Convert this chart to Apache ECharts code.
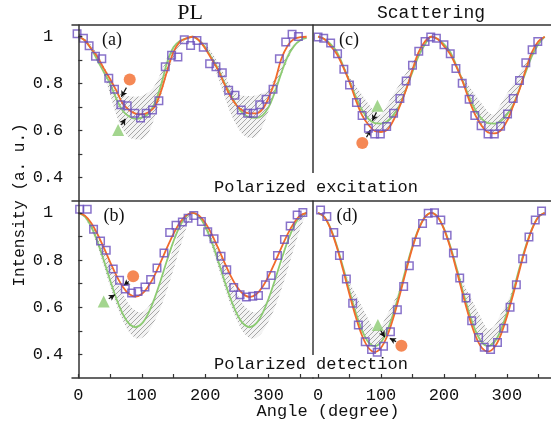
<!DOCTYPE html>
<html>
<head>
<meta charset="utf-8">
<script src="https://cdn.jsdelivr.net/npm/echarts@6/dist/echarts.min.js"></script>
<style>html,body{margin:0;padding:0;background:#fff}#c{width:551px;height:428px}</style>
</head>
<body>
<div id="c"></div>
<script>
// ---------- data ----------
const curveAngles = [0,10,20,30,40,50,60,70,80,90,100,110,120,130,140,150,160,170,180,190,200,210,220,230,240,250,260,270,280,290,300,310,320,330,340,350,360];
const xTickValues = [0,50,100,150,200,250,300,350];
const xLabelValues = [0,100,200,300];
const yTickValues = [0.4,0.5,0.6,0.7,0.8,0.9,1];
const yLabelValues = [0.4,0.6,0.8,1];

// (a) PL, polarized excitation
const anglesA = [-2,8,17,27,37,48,57,67,77,89,98,107,117,127,137,147,157,167,177,187,197,207,217,227,237,247,257,267,276,286,296,307,317,327,337,347];
const intensityA = [1.013,0.994,0.962,0.917,0.906,0.823,0.776,0.710,0.706,0.674,0.654,0.674,0.688,0.727,0.872,0.921,0.914,0.987,0.963,0.984,0.955,0.885,0.872,0.847,0.772,0.751,0.688,0.674,0.674,0.710,0.734,0.776,0.906,0.978,1.011,1.001];
const orangeA = [1.0,0.985,0.95,0.915,0.865,0.82,0.77,0.715,0.688,0.672,0.669,0.677,0.70,0.765,0.854,0.935,0.978,0.993,1.0,0.985,0.95,0.905,0.86,0.80,0.745,0.706,0.684,0.673,0.673,0.69,0.74,0.81,0.905,0.962,0.99,0.998,1.0];
const greenA = [1.0,0.985,0.95,0.9,0.85,0.8,0.735,0.685,0.66,0.65,0.655,0.67,0.715,0.79,0.89,0.955,0.982,0.992,1.0,0.985,0.955,0.91,0.865,0.805,0.755,0.705,0.672,0.656,0.654,0.664,0.70,0.765,0.845,0.915,0.96,0.985,0.995];
const bandLowA = [1.0,0.985,0.95,0.9,0.84,0.755,0.665,0.605,0.572,0.563,0.563,0.588,0.655,0.745,0.84,0.91,0.96,0.99,1.0,0.99,0.96,0.9,0.83,0.75,0.675,0.62,0.582,0.569,0.575,0.615,0.685,0.765,0.835,0.9,0.955,0.985,1.0];
const bandUpA = [1.0,0.99,0.965,0.925,0.875,0.825,0.775,0.752,0.746,0.744,0.748,0.762,0.79,0.845,0.91,0.955,0.985,0.997,1.0,0.99,0.97,0.935,0.89,0.84,0.79,0.757,0.748,0.747,0.75,0.758,0.775,0.825,0.88,0.93,0.97,0.99,1.0];
const circleA = [81,0.818], triangleA = [62.7,0.603];
const arrowCircleA = [[75.8,0.783],[67.9,0.744]], arrowTriangleA = [[67.9,0.624],[74.2,0.650]];

// (b) PL, polarized detection
const anglesB = [2,14,24,35,44,55,65,74,84,94,105,114,124,135,144,154,164,173,182,194,204,214,225,234,245,255,265,275,284,295,304,314,325,334,345,354];
const intensityB = [1.015,1.015,0.93,0.88,0.841,0.762,0.714,0.677,0.66,0.667,0.686,0.717,0.766,0.83,0.916,0.947,0.961,0.977,0.989,0.963,0.92,0.89,0.816,0.759,0.684,0.653,0.643,0.646,0.65,0.695,0.734,0.819,0.887,0.944,0.991,1.001];
const orangeB = [1.0,0.989,0.958,0.911,0.853,0.792,0.734,0.687,0.656,0.645,0.656,0.687,0.734,0.792,0.853,0.911,0.958,0.989,1.0,0.989,0.958,0.911,0.853,0.792,0.734,0.687,0.656,0.643,0.654,0.685,0.732,0.79,0.851,0.91,0.957,0.989,1.0];
const greenB = [1.0,0.985,0.943,0.879,0.80,0.715,0.636,0.572,0.53,0.515,0.53,0.572,0.636,0.715,0.80,0.879,0.943,0.985,1.0,0.985,0.943,0.879,0.80,0.715,0.636,0.572,0.53,0.515,0.53,0.572,0.636,0.715,0.80,0.879,0.943,0.985,1.0];
const bandLowB = [1.0,0.98,0.93,0.86,0.775,0.69,0.61,0.545,0.495,0.47,0.47,0.495,0.54,0.6,0.675,0.76,0.85,0.935,1.0,0.98,0.93,0.86,0.775,0.69,0.61,0.545,0.495,0.47,0.47,0.495,0.54,0.6,0.675,0.76,0.85,0.935,1.0];
const bandUpB = [1.0,0.99,0.96,0.91,0.85,0.785,0.72,0.66,0.61,0.585,0.578,0.60,0.645,0.705,0.775,0.85,0.925,0.975,1.0,0.99,0.96,0.91,0.85,0.785,0.72,0.66,0.61,0.585,0.578,0.60,0.645,0.705,0.775,0.85,0.925,0.975,1.0];
const circleB = [86.4,0.731], triangleB = [40,0.624];
const arrowCircleB = [[79.5,0.709],[71.6,0.692]], arrowTriangleB = [[48,0.636],[57.5,0.653]];

// (c) Scattering, polarized excitation
const anglesC = [0,9,20,31,41,50,61,70,80,90,99,109,120,130,140,150,160,170,179,188,200,210,219,229,240,249,259,270,280,290,301,310,320,330,340,349];
const intensityC = [0.999,0.994,0.973,0.928,0.861,0.794,0.72,0.664,0.61,0.586,0.586,0.617,0.674,0.737,0.811,0.879,0.938,0.98,0.999,0.994,0.966,0.928,0.865,0.802,0.734,0.664,0.621,0.586,0.586,0.619,0.671,0.737,0.814,0.889,0.945,0.98];
const orangeC = [1.0,0.99,0.96,0.925,0.87,0.806,0.73,0.665,0.625,0.598,0.594,0.603,0.645,0.705,0.775,0.86,0.935,0.98,1.0,0.99,0.96,0.925,0.87,0.806,0.73,0.665,0.62,0.592,0.588,0.6,0.64,0.705,0.775,0.86,0.935,0.98,1.0];
const greenC = [1.0,0.99,0.968,0.935,0.875,0.81,0.745,0.688,0.65,0.632,0.63,0.64,0.668,0.71,0.778,0.85,0.92,0.968,1.0,0.99,0.968,0.935,0.875,0.81,0.745,0.688,0.65,0.632,0.63,0.64,0.668,0.71,0.778,0.85,0.92,0.968,1.0];
const bandLowC = [1.0,0.99,0.96,0.925,0.87,0.806,0.73,0.665,0.625,0.598,0.594,0.603,0.645,0.705,0.775,0.86,0.935,0.98,1.0,0.99,0.96,0.925,0.87,0.806,0.73,0.665,0.62,0.592,0.588,0.6,0.64,0.705,0.775,0.86,0.935,0.98,1.0];
const bandUpC = [1.0,0.99,0.968,0.935,0.88,0.827,0.79,0.752,0.714,0.68,0.668,0.712,0.757,0.80,0.845,0.89,0.94,0.98,1.0,0.99,0.968,0.935,0.88,0.827,0.79,0.752,0.714,0.68,0.668,0.712,0.757,0.80,0.845,0.89,0.94,0.98,1.0];
const circleC = [70.3,0.547], triangleC = [94.3,0.706];
const arrowCircleC = [[77,0.572],[83.4,0.603]], arrowTriangleC = [[92.7,0.678],[86.4,0.642]];

// (d) Scattering, polarized detection
const anglesD = [4,14,25,34,45,55,64,75,85,94,104,115,126,136,145,156,166,175,185,195,205,215,225,235,244,255,264,274,285,295,305,315,325,335,345,355];
const intensityD = [1.012,0.984,0.916,0.819,0.72,0.617,0.525,0.454,0.421,0.409,0.435,0.496,0.589,0.688,0.776,0.876,0.955,0.998,1.0,0.969,0.905,0.83,0.724,0.639,0.543,0.472,0.43,0.421,0.45,0.511,0.60,0.695,0.805,0.897,0.969,1.008];
const orangeD = [1.0,0.982,0.931,0.853,0.756,0.654,0.558,0.479,0.428,0.41,0.428,0.479,0.558,0.654,0.756,0.853,0.931,0.982,1.0,0.982,0.931,0.853,0.756,0.654,0.558,0.479,0.428,0.412,0.43,0.481,0.56,0.655,0.757,0.853,0.931,0.982,1.0];
const greenD = [1.0,0.983,0.934,0.859,0.767,0.668,0.576,0.501,0.452,0.435,0.452,0.501,0.576,0.668,0.767,0.859,0.934,0.983,1.0,0.983,0.934,0.859,0.767,0.668,0.576,0.501,0.452,0.435,0.452,0.501,0.576,0.668,0.767,0.859,0.934,0.983,1.0];
const bandLowD = [1.0,0.983,0.934,0.859,0.767,0.668,0.576,0.501,0.452,0.435,0.452,0.501,0.576,0.668,0.767,0.859,0.934,0.983,1.0,0.983,0.934,0.859,0.767,0.668,0.576,0.501,0.452,0.435,0.452,0.501,0.576,0.668,0.767,0.859,0.934,0.983,1.0];
const bandUpD = [1.0,0.983,0.934,0.859,0.77,0.705,0.654,0.601,0.549,0.505,0.52,0.57,0.62,0.68,0.767,0.859,0.934,0.983,1.0,0.983,0.934,0.859,0.77,0.705,0.654,0.601,0.549,0.505,0.52,0.57,0.62,0.68,0.767,0.859,0.934,0.983,1.0];
const circleD = [132.4,0.437], triangleD = [95,0.525];
const arrowCircleD = [[124,0.454],[114,0.468]], arrowTriangleD = [[99,0.504],[106,0.473]];

// ---------- styling ----------
const MONO = "'Liberation Mono', 'DejaVu Sans Mono', monospace";
const SERIF = "'Liberation Serif', 'DejaVu Serif', serif";
const C_SQ = '#6a4fbd', C_OR = '#f26a2b', C_GR = '#8ccb72', C_AX = '#333';

const pat = document.createElement('canvas');
pat.width = 5; pat.height = 5;
(function(){
  const c = pat.getContext('2d');
  c.fillStyle = '#f3f3f3'; c.fillRect(0,0,5,5);
  c.strokeStyle = '#999999'; c.lineWidth = 0.85;
  c.beginPath();
  c.moveTo(0,5); c.lineTo(5,0);
  c.moveTo(-1,1); c.lineTo(1,-1);
  c.moveTo(4,6); c.lineTo(6,4);
  c.stroke();
})();

function pairs(xs, ys){ return xs.map((x,i)=>[x, ys[i]]); }

const panels = [
  {key:'a', x:0, y:0, ang:anglesA, val:intensityA, or:orangeA, gr:greenA, lo:bandLowA, up:bandUpA, ci:circleA, tr:triangleA, ac:arrowCircleA, at:arrowTriangleA},
  {key:'c', x:1, y:1, ang:anglesC, val:intensityC, or:orangeC, gr:greenC, lo:bandLowC, up:bandUpC, ci:circleC, tr:triangleC, ac:arrowCircleC, at:arrowTriangleC},
  {key:'b', x:2, y:2, ang:anglesB, val:intensityB, or:orangeB, gr:greenB, lo:bandLowB, up:bandUpB, ci:circleB, tr:triangleB, ac:arrowCircleB, at:arrowTriangleB},
  {key:'d', x:3, y:3, ang:anglesD, val:intensityD, or:orangeD, gr:greenD, lo:bandLowD, up:bandUpD, ci:circleD, tr:triangleD, ac:arrowCircleD, at:arrowTriangleD}
];

function arrowMark(seg){
  return {
    silent: true, symbol: ['none','arrow'], symbolSize: [5,6],
    lineStyle: {color:'#111', width:1.2, type:'solid'},
    label: {show:false}, animation:false,
    data: [[{coord: seg[0]}, {coord: seg[1]}]]
  };
}

// hatched band between two edges, one polygon per dip (0-180, 180-360)
function bandRender(up, lo){
  return function(params, api){
    const children = [];
    [[0,18],[18,36]].forEach(([s,e]) => {
      const pts = [];
      for (let i = s; i <= e; i++) pts.push(api.coord([curveAngles[i], up[i]]));
      for (let i = e; i >= s; i--) pts.push(api.coord([curveAngles[i], lo[i]]));
      children.push({type:'polygon', shape:{points:pts, smooth:0.3}, style:{fill:{image:pat, repeat:'repeat'}, stroke:null}});
    });
    return {type:'group', children:children};
  };
}

const series = [];
panels.forEach(p => {
  const common = {xAxisIndex:p.x, yAxisIndex:p.y};
  series.push(Object.assign({type:'custom', name:'band'+p.key, data:[[curveAngles[0], p.up[0]]], renderItem:bandRender(p.up,p.lo), silent:true, z:1}, common));
  series.push(Object.assign({type:'line', name:'green'+p.key, data:pairs(curveAngles,p.gr), smooth:0.35, symbol:'none', lineStyle:{color:C_GR, width:1.8}, z:3}, common));
  series.push(Object.assign({type:'line', name:'orange'+p.key, data:pairs(curveAngles,p.or), smooth:0.35, symbol:'none', lineStyle:{color:C_OR, width:1.8}, z:4}, common));
  series.push(Object.assign({type:'scatter', name:'data'+p.key, data:pairs(p.ang,p.val), symbol:'rect', symbolSize:7.5, itemStyle:{color:'rgba(255,255,255,0)', borderColor:C_SQ, borderWidth:1.5}, z:5}, common));
  series.push(Object.assign({type:'scatter', name:'circle'+p.key, data:[p.ci], symbol:'circle', symbolSize:12, itemStyle:{color:C_OR}, z:6, markLine:arrowMark(p.ac)}, common));
  series.push(Object.assign({type:'scatter', name:'tri'+p.key, data:[p.tr], symbol:'triangle', symbolSize:12, itemStyle:{color:C_GR}, z:6, markLine:arrowMark(p.at)}, common));
});

const grids = [
  {left:72, top:25, width:241, height:176},
  {left:313, top:25, width:239, height:176},
  {left:72, top:201, width:241, height:177},
  {left:313, top:201, width:239, height:177}
];

const axLine = {show:true, lineStyle:{color:C_AX, width:1.5}};
function xAx(grid, min, labels, pos){
  return {
    type:'value', gridIndex:grid, min:min, max:370, position:pos||'bottom', z:10,
    axisLine: axLine,
    axisTick: labels ? {show:true, inside:true, length:4, lineStyle:{color:C_AX, width:1.2}, customValues:xTickValues} : {show:false},
    axisLabel: labels ? {show:true, customValues:xLabelValues, margin:9, color:'#111', fontFamily:MONO, fontSize:17} : {show:false},
    splitLine:{show:false}
  };
}
function yAx(grid, labels){
  return {
    type:'value', gridIndex:grid, min:0.3, max:1.05, z:10,
    axisLine: labels ? axLine : {show:false},
    axisTick: labels ? {show:true, inside:true, length:4, lineStyle:{color:C_AX, width:1.2}, customValues:yTickValues} : {show:false},
    axisLabel: labels ? {show:true, customValues:yLabelValues, align:'center', margin:24, padding:[6,0,0,0], color:'#111', fontFamily:MONO, fontSize:17,
      formatter: v => (Math.abs(v-1)<1e-9 ? '1' : v.toFixed(1))} : {show:false},
    splitLine:{show:false}
  };
}

const xAxes = [
  xAx(0,-10,false), xAx(1,-8,false), xAx(2,-10,true), xAx(3,-8,true),
  xAx(0,-10,false,'top'), xAx(1,-8,false,'top')
];
const yAxes = [yAx(0,true), yAx(1,false), yAx(2,true), yAx(3,false)];

function txt(text, x, y, font){
  return {type:'text', z:50, silent:true, style:{text:text, x:x, y:y, font:font, fill:'#111', textAlign:'center', textVerticalAlign:'middle'}};
}

const graphic = [
  {type:'line', z:40, silent:true, shape:{x1:313,y1:25,x2:313,y2:173}, style:{stroke:C_AX, lineWidth:1.5}},
  {type:'line', z:40, silent:true, shape:{x1:313,y1:201,x2:313,y2:355}, style:{stroke:C_AX, lineWidth:1.5}},
  txt('PL', 190, 13, '22px ' + SERIF),
  txt('Scattering', 431, 13, '18px ' + MONO),
  txt('(a)', 112, 40, '18px ' + SERIF),
  txt('(b)', 114, 216, '18px ' + SERIF),
  txt('(c)', 349, 40, '18px ' + SERIF),
  txt('(d)', 347, 216, '18px ' + SERIF),
  txt('Polarized excitation', 316, 187, '17px ' + MONO),
  txt('Polarized detection', 311, 364, '17px ' + MONO),
  txt('Angle (degree)', 328, 411, '17px ' + MONO),
  {type:'text', z:50, silent:true, x:20, y:205, rotation:Math.PI/2,
    style:{text:'Intensity (a. u.)', x:0, y:0, font:'16px ' + MONO, fill:'#111', textAlign:'center', textVerticalAlign:'middle'}}
];

const chart = echarts.init(document.getElementById('c'), null, {renderer:'canvas'});
chart.setOption({
  animation:false,
  backgroundColor:'#fff',
  grid: grids,
  xAxis: xAxes,
  yAxis: yAxes,
  series: series,
  graphic: graphic
});
</script>
</body>
</html>
